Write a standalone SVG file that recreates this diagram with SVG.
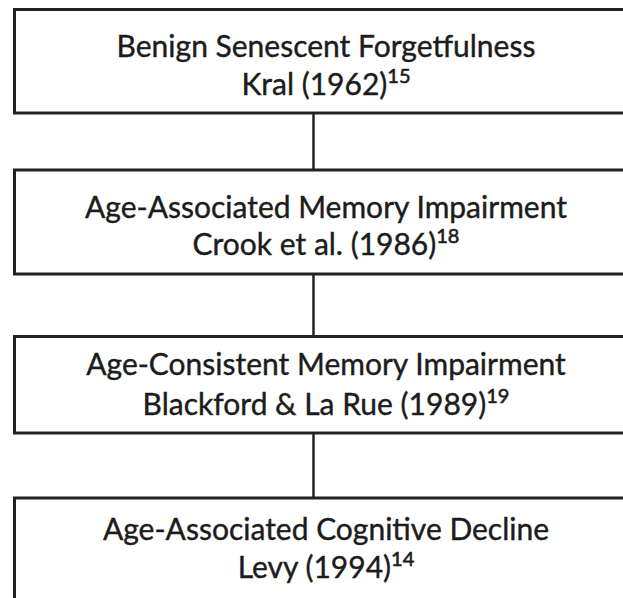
<svg xmlns="http://www.w3.org/2000/svg" width="623" height="598" viewBox="0 0 623 598">
  <style>
    .box { fill: #ffffff; stroke: #222222; stroke-width: 3; }
    .conn { stroke: #222222; stroke-width: 2.5; fill: none; }
    .t { font-family: Lato, "Open Sans", "Liberation Sans", sans-serif; font-size: 30px; fill: #1c1c1c; stroke: #1c1c1c; stroke-width: 0.4; text-anchor: middle; }
    .sup { font-size: 20px; stroke-width: 0.6; }
  </style>
  <rect x="0" y="0" width="623" height="598" fill="#ffffff"/>
  <g id="connectors">
    <line class="conn" x1="313.5" y1="113" x2="313.5" y2="170"/>
    <line class="conn" x1="313.5" y1="274" x2="313.5" y2="336.5"/>
    <line class="conn" x1="313.5" y1="433" x2="313.5" y2="498"/>
  </g>
  <g id="node-bsf">
    <rect class="box" x="14.5" y="9.5" width="640" height="103.5"/>
    <text class="t" x="326" y="57">Benign Senescent Forgetfulness</text>
    <text class="t" x="326" y="95">Kral (1962)<tspan class="sup" dy="-12">15</tspan></text>
  </g>
  <g id="node-aami">
    <rect class="box" x="14.5" y="170" width="640" height="104"/>
    <text class="t" x="326" y="218">Age-Associated Memory Impairment</text>
    <text class="t" x="326" y="255">Crook et al. (1986)<tspan class="sup" dy="-12">18</tspan></text>
  </g>
  <g id="node-acmi">
    <rect class="box" x="14.5" y="336.5" width="640" height="96.5"/>
    <text class="t" x="326" y="375">Age-Consistent Memory Impairment</text>
    <text class="t" x="326" y="415">Blackford &amp; La Rue (1989)<tspan class="sup" dy="-12">19</tspan></text>
  </g>
  <g id="node-aacd">
    <rect class="box" x="14.5" y="498" width="640" height="140"/>
    <text class="t" x="326" y="540">Age-Associated Cognitive Decline</text>
    <text class="t" x="326" y="578">Levy (1994)<tspan class="sup" dy="-12">14</tspan></text>
  </g>
</svg>
